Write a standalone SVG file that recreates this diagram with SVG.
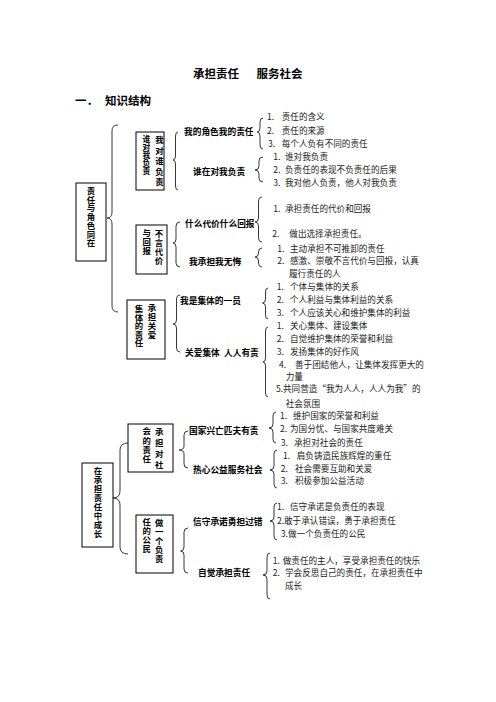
<svg xmlns="http://www.w3.org/2000/svg" width="496" height="702" viewBox="0 0 496 702">
<style>
text{font-family:"Noto Sans CJK SC","Noto Sans",sans-serif;fill:#000}
.t{font-size:11.5px;font-weight:bold}
.b{font-size:8.7px;font-weight:bold}
.v{font-size:8.4px;font-weight:bold;text-anchor:middle}
.vs{font-size:7.8px;font-weight:bold;text-anchor:middle}
.i{font-size:8.6px;fill:#222}
.box{fill:#fff;stroke:#000;stroke-width:1}
.br{fill:none;stroke:#222;stroke-width:0.9}
</style>
<rect width="496" height="702" fill="#fff"/>
<g id="title">
<text class="t" y="78"><tspan x="193">承担责任</tspan><tspan x="256.5">服务社会</tspan></text>
<text class="t" y="105"><tspan x="75">一．</tspan><tspan x="105">知识结构</tspan></text>
</g>
<g id="connectors">
<path class="br" d="M118,125 Q112,125 112,131 L112,212 Q112,218 107,218 Q112,218 112,224 L112,306 Q112,312 118,312"/>
<path class="br" d="M178,132 Q175.5,132 175.5,136 L175.5,156 Q175.5,160 173,160 Q175.5,160 175.5,164 L175.5,186 Q175.5,190 178,190"/>
<path class="br" d="M263,118 Q260,118 260,122 L260,128 Q260,132 257,132 Q260,132 260,136 L260,145 Q260,149 263,149"/>
<path class="br" d="M263,157 Q259,157 259,161 L259,166 Q259,170 255,170 Q259,170 259,174 L259,178 Q259,182 263,182"/>
<path class="br" d="M180,222 Q176,222 176,226 L176,239 Q176,243 173,243 Q176,243 176,247 L176,263 Q176,267 180,267"/>
<path class="br" d="M262,197 Q258.5,197 258.5,201 L258.5,218 Q258.5,222 255,222 Q258.5,222 258.5,226 L258.5,238 Q258.5,242 262,242"/>
<path class="br" d="M262,248 Q258.5,248 258.5,252 L258.5,253 Q258.5,257 255,257 Q258.5,257 258.5,261 L258.5,263 Q258.5,267 262,267"/>
<path class="br" d="M180,295 Q176.5,295 176.5,299 L176.5,320 Q176.5,324 173,324 Q176.5,324 176.5,328 L176.5,348 Q176.5,352 180,352"/>
<path class="br" d="M268,288 Q265.5,288 265.5,292 L265.5,299 Q265.5,303 262.5,303 Q265.5,303 265.5,307 L265.5,315 Q265.5,319 268,319"/>
<path class="br" d="M268,327 Q265.5,327 265.5,331 L265.5,358 Q265.5,362 263,362 Q265.5,362 265.5,366 L265.5,393 Q265.5,397 268,397"/>
<path class="br" d="M188,431 Q184,431 184,435 L184,446 Q184,450 179,450 Q184,450 184,454 L184,464 Q184,468 188,468"/>
<path class="br" d="M128,443 Q120,443 120,450 L120,491 Q120,498 113,498 Q120,498 120,505 L120,547 Q120,554 128,554"/>
<path class="br" d="M276,412 Q273,412 273,416 L273,424 Q273,428 269,428 Q273,428 273,432 L273,439 Q273,443 276,443"/>
<path class="br" d="M277,450 Q274,450 274,454 L274,466 Q274,470 270,470 Q274,470 274,474 L274,484 Q274,488 277,488"/>
<path class="br" d="M277,503 Q274,503 274,507 L274,517 Q274,521 270,521 Q274,521 274,525 L274,536 Q274,540 277,540"/>
<path class="br" d="M188,528 Q184,528 184,532 L184,547 Q184,551 180.5,551 Q184,551 184,555 L184,569 Q184,573 188,573"/>
<path class="br" d="M270,553 Q267,553 267,557 L267,571 Q267,575 263,575 Q267,575 267,579 L267,595 Q267,599 270,599"/>
</g>
<g id="n-role">
<rect class="box" x="76" y="183" width="30" height="78"/>
<text class="v" x="91 91 91 91 91 91 91" y="194 202.7 211.4 220.1 228.8 237.5 246.2">责任与角色同在</text>
</g>
<g id="n-who">
<rect class="box" x="136" y="132" width="28" height="58"/>
<text class="v" x="159.5 159.5 159.5 159.5 159.5" y="143.4 153.8 164.2 174.6 185">我对谁负责</text>
<text class="vs" x="146.5 146.5 146.5 146.5 146.5" y="141.6 149.7 157.8 165.9 174">谁对我负责</text>
</g>
<g id="n-cost">
<rect class="box" x="136" y="225" width="31" height="49"/>
<text class="v" x="159 159 159 159" y="236.9 245.9 254.9 263.9">不言代价</text>
<text class="v" x="146.7 146.7 146.7" y="236.4 245 253.6">与回报</text>
</g>
<g id="n-collective">
<rect class="box" x="127" y="300" width="38" height="59"/>
<text class="v" x="152 152 152 152" y="311.4 320.2 329 337.8">承担关爱</text>
<text class="v" x="139 139 139 139 139" y="312.4 320.9 329.4 337.9 346.4">集体的责任</text>
</g>
<g id="n-grow">
<rect class="box" x="82" y="463" width="31" height="84"/>
<text class="v" x="98 98 98 98 98 98 98 98" y="474.4 483.3 492.2 501.1 510 518.9 527.8 536.7">在承担责任中成长</text>
</g>
<g id="n-society">
<rect class="box" x="128" y="424" width="45" height="48"/>
<text class="v" x="159.3 159.3 159.3 159.3" y="435.4 446.2 457 467.8">承担对社</text>
<text class="v" x="146.7 146.7 146.7 146.7" y="434.4 443.6 452.8 462">会的责任</text>
</g>
<g id="n-citizen">
<rect class="box" x="136" y="515" width="37" height="58"/>
<text class="v" x="159.3 159.3 159.3 159.3 159.3" y="525.9 534.8 543.7 552.6 561.5">做一个负责</text>
<text class="v" x="146.7 146.7 146.7 146.7" y="525.4 534.4 543.4 552.4">任的公民</text>
</g>
<g id="l-myrole">
<text class="b" x="184" y="135.3">我的角色我的责任</text>
<text class="i" y="120"><tspan x="267">1.</tspan><tspan x="281.7">责任的含义</tspan></text>
<text class="i" y="134"><tspan x="267">2.</tspan><tspan x="281.7">责任的来源</tspan></text>
<text class="i" y="146.6"><tspan x="268">3.</tspan><tspan x="281.7">每个人负有不同的责任</tspan></text>
</g>
<g id="l-whome">
<text class="b" x="193" y="175">谁在对我负责</text>
<text class="i" y="160"><tspan x="273.3">1.</tspan><tspan x="285">谁对我负责</tspan></text>
<text class="i" y="173.3"><tspan x="273.3">2.</tspan><tspan x="285">负责任的表现不负责任的后果</tspan></text>
<text class="i" y="186"><tspan x="273.3">3.</tspan><tspan x="285">我对他人负责，他人对我负责</tspan></text>
</g>
<g id="l-price">
<text class="b" x="185" y="226.6">什么代价什么回报</text>
<text class="i" y="212.3"><tspan x="273.3">1.</tspan><tspan x="285">承担责任的代价和回报</tspan></text>
<text class="i" y="236.6"><tspan x="272.3">2.</tspan><tspan x="289.3">做出选择承担责任。</tspan></text>
</g>
<g id="l-noregret">
<text class="b" x="189" y="265">我承担我无悔</text>
<text class="i" y="251.6"><tspan x="277.3">1.</tspan><tspan x="290">主动承担不可推卸的责任</tspan></text>
<text class="i" y="264.3"><tspan x="277.3">2.</tspan><tspan x="290">感激、崇敬不言代价与回报，认真</tspan></text>
<text class="i" x="289" y="277.3">履行责任的人</text>
</g>
<g id="l-member">
<text class="b" x="180" y="304">我是集体的一员</text>
<text class="i" y="290"><tspan x="276.7">1.</tspan><tspan x="290">个体与集体的关系</tspan></text>
<text class="i" y="303.3"><tspan x="276.7">2.</tspan><tspan x="290">个人利益与集体利益的关系</tspan></text>
<text class="i" y="316"><tspan x="276.7">3.</tspan><tspan x="290">个人应该关心和维护集体的利益</tspan></text>
</g>
<g id="l-care">
<text class="b" y="356"><tspan x="185">关爱集体</tspan><tspan x="224">人人有责</tspan></text>
<text class="i" y="329.3"><tspan x="276.7">1.</tspan><tspan x="290">关心集体、建设集体</tspan></text>
<text class="i" y="342.3"><tspan x="276.7">2.</tspan><tspan x="290">自觉维护集体的荣誉和利益</tspan></text>
<text class="i" y="355"><tspan x="276.7">3.</tspan><tspan x="290">发扬集体的好作风</tspan></text>
<text class="i" y="368.3"><tspan x="279">4.</tspan><tspan x="295">善于团结他人，让集体发挥更大的</tspan></text>
<text class="i" x="285.7" y="380.3">力量</text>
<text class="i" y="392.3"><tspan x="276">5.</tspan><tspan x="283">共同营造“我为人人，人人为我”的</tspan></text>
<text class="i" x="285.7" y="407.3">社会氛围</text>
</g>
<g id="l-nation">
<text class="b" x="189" y="434">国家兴亡匹夫有责</text>
<text class="i" y="419.3"><tspan x="280">1.</tspan><tspan x="293">维护国家的荣誉和利益</tspan></text>
<text class="i" y="432.3"><tspan x="280">2.</tspan><tspan x="290">为国分忧、与国家共度难关</tspan></text>
<text class="i" y="446"><tspan x="280.7">3.</tspan><tspan x="294">承担对社会的责任</tspan></text>
</g>
<g id="l-public">
<text class="b" x="193" y="473.3">热心公益服务社会</text>
<text class="i" y="459"><tspan x="283">1.</tspan><tspan x="296.7">肩负铸造民族辉煌的重任</tspan></text>
<text class="i" y="472.3"><tspan x="280.7">2.</tspan><tspan x="295">社会需要互助和关爱</tspan></text>
<text class="i" y="484.3"><tspan x="280.7">3.</tspan><tspan x="295">积极参加公益活动</tspan></text>
</g>
<g id="l-promise">
<text class="b" x="193" y="525">信守承诺勇担过错</text>
<text class="i" y="510.3"><tspan x="277">1.</tspan><tspan x="290">信守承诺是负责任的表现</tspan></text>
<text class="i" y="524"><tspan x="277">2.</tspan><tspan x="284">敢于承认错误，勇于承担责任</tspan></text>
<text class="i" y="537.3"><tspan x="280.7">3.</tspan><tspan x="288">做一个负责任的公民</tspan></text>
</g>
<g id="l-conscious">
<text class="b" x="198" y="576.3">自觉承担责任</text>
<text class="i" y="564"><tspan x="272.7">1.</tspan><tspan x="282.7">做责任的主人，享受承担责任的快乐</tspan></text>
<text class="i" y="576.3"><tspan x="272.7">2.</tspan><tspan x="285">学会反思自己的责任，在承担责任中</tspan></text>
<text class="i" x="285" y="589.3">成长</text>
</g>
</svg>
